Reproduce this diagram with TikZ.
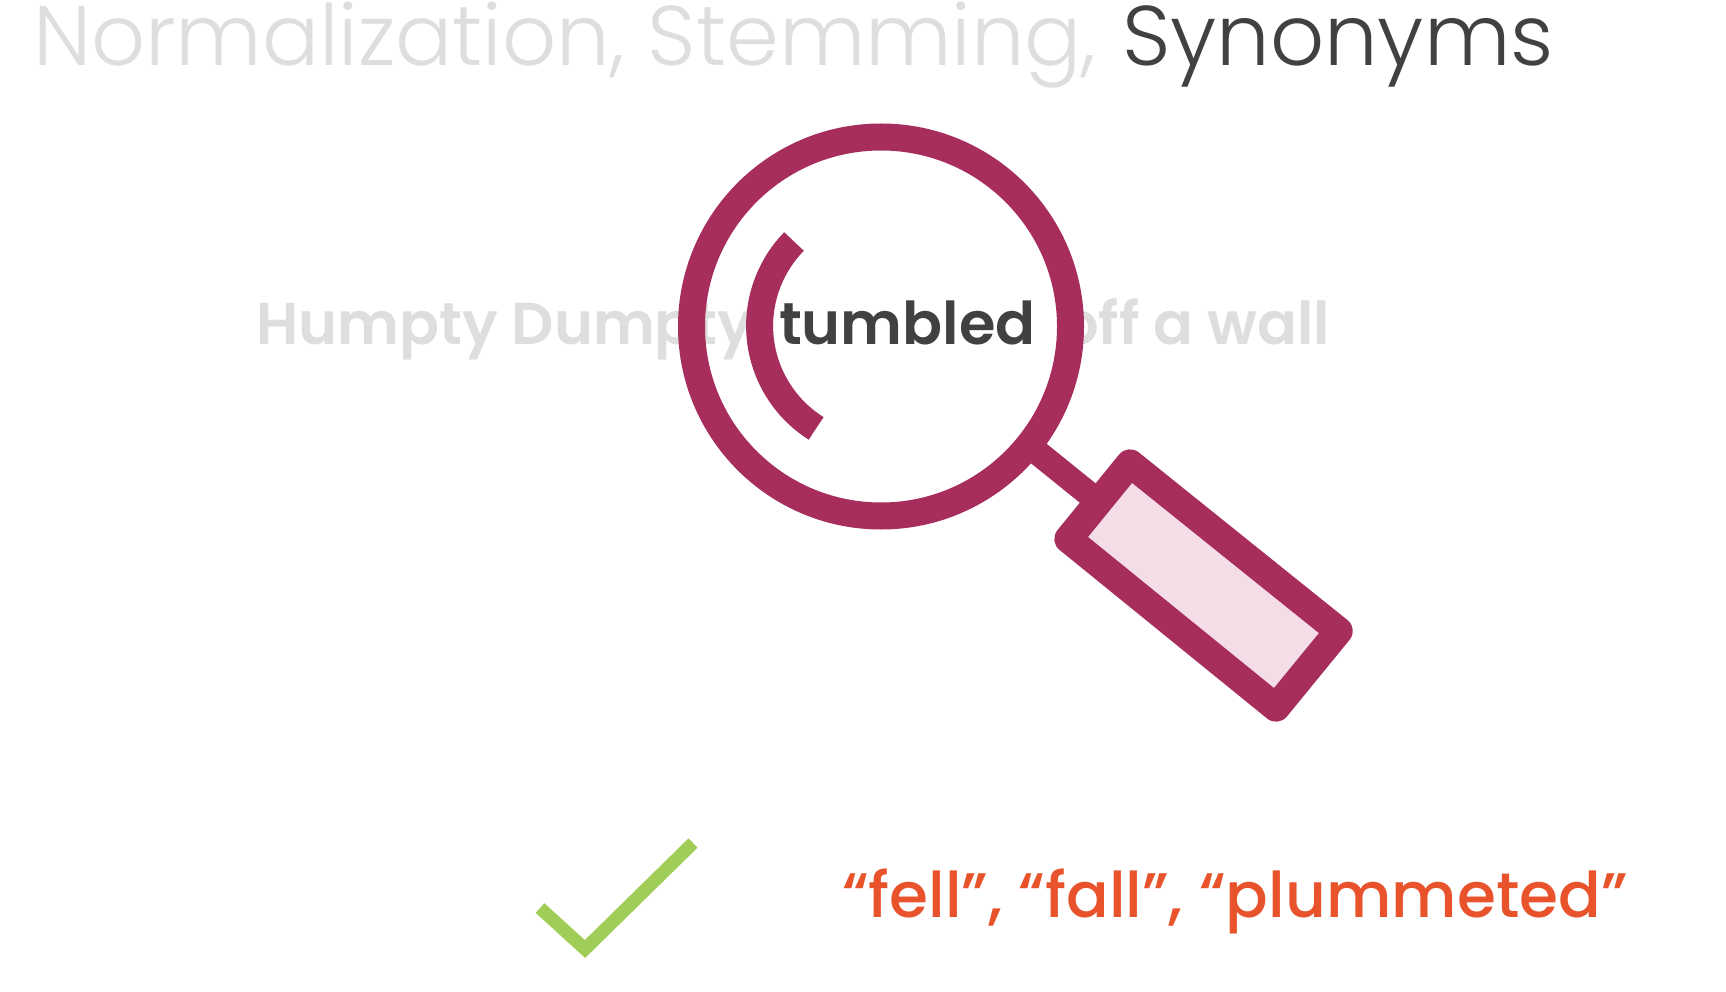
\documentclass[tikz,border=0pt]{standalone}
\usepackage{fontspec}
\setmainfont{Poppins}
\newfontfamily\lightf{Poppins Light}
\newfontfamily\medf{Poppins Medium}
\newfontfamily\semif{Poppins SemiBold}
\definecolor{rim}{HTML}{A62D5C}
\definecolor{pinkfill}{HTML}{F4DDE6}
\definecolor{darktxt}{HTML}{414042}
\definecolor{graytxt}{HTML}{DEDEDE}
\definecolor{orangetxt}{HTML}{E8532B}
\definecolor{checkgreen}{HTML}{A0CD57}
\tikzset{
  lbl/.style={anchor=base west,inner sep=0pt,outer sep=0pt},
  titlef/.style={lbl,font=\lightf\fontsize{84.6}{90}\selectfont},
  bodyf/.style={lbl,font=\semif\fontsize{59}{64}\selectfont},
  answerf/.style={lbl,font=\medf\fontsize{63}{66}\selectfont,text=orangetxt},
  rimline/.style={draw=rim,line width=27pt}
}
\begin{document}
\begin{tikzpicture}[x=1pt,y=-1pt]
\useasboundingbox (0,0) rectangle (1726,992);
\fill[white] (0,0) rectangle (1726,992);
\node[titlef,text=graytxt] (t1) at (33,66) {Normalization, Stemming,};
\node[titlef,text=darktxt] (t2) at (1122,66) {Synonyms};
\node[bodyf,text=graytxt] (h1) at (256,344) {Humpty Dumpty};
\node[bodyf,text=darktxt] (h2) at (779,344) {tumbled};
\node[bodyf,text=graytxt] (h3) at (1061,344) {off a wall};
\draw[draw=rim,line width=25pt] (1022,440) -- (1105,507);
\draw[draw=rim,line width=28pt,line join=round,fill=pinkfill] (1130,463.3) -- (1338.7,631) -- (1276,707.7) -- (1068.3,539) -- cycle;
\draw[rimline] (881,326.5) circle[radius=189.5];
\draw[rimline] (794,241.5) arc[start angle=224.3,end angle=122.2,radius=121];
\draw[draw=checkgreen,line width=13pt,miter limit=10] (540,908) -- (585,949) -- (693,843);
\node[answerf] (a) at (842,917) {“fell”, “fall”, “plummeted”};
\end{tikzpicture}
\end{document}
